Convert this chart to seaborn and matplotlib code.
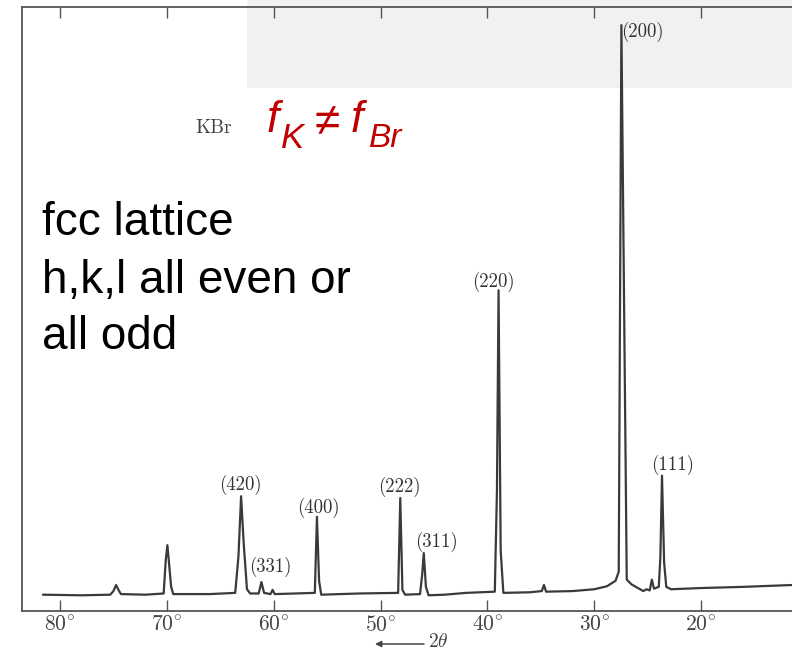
import matplotlib
matplotlib.use('Agg')
import matplotlib.pyplot as plt
import seaborn as sns
import pandas as pd
from matplotlib.patches import Rectangle

# ---- data (2theta in degrees, intensity arb. units) ----
two_theta = [81.6, 78.0, 75.3, 75.0, 74.75, 74.5, 74.3, 72.0, 70.3, 70.1, 69.95, 69.8, 69.6, 69.4,
             66.0, 63.6, 63.3, 63.05, 62.8, 62.5, 62.2, 61.4, 61.15, 60.9, 60.3, 60.1, 59.9,
             58.0, 56.15, 55.95, 55.75, 55.55, 52.0, 48.35, 48.15, 47.95, 47.7, 46.3, 46.1,
             45.95, 45.75, 45.5, 44.0, 42.0, 39.3, 39.1, 38.95, 38.75, 38.5, 36.0, 34.9, 34.7,
             34.5, 32.0, 30.0, 28.8, 28.0, 27.7, 27.45, 26.95, 26.5, 26.0, 25.6, 25.4, 25.1,
             24.8, 24.6, 24.4, 23.95, 23.8, 23.65, 23.45, 23.25, 22.8, 20.0, 16.0, 11.5]
intensity = [2.7, 2.6, 2.7, 3.3, 4.3, 3.4, 2.8, 2.7, 2.9, 8.5, 10.9, 8.0, 4.0, 2.8,
             2.8, 3.0, 9.0, 19.0, 11.0, 3.6, 2.9, 2.9, 4.8, 3.0, 2.8, 3.5, 2.8,
             2.9, 3.0, 15.6, 5.0, 2.7, 2.9, 3.0, 18.7, 3.5, 2.7, 2.8, 6.0,
             9.6, 4.0, 2.6, 2.7, 3.0, 3.2, 20.0, 53.1, 10.0, 3.0, 3.1, 3.3, 4.3,
             3.2, 3.3, 3.6, 4.1, 5.0, 6.5, 97.0, 5.2, 4.4, 3.9, 3.5, 3.3, 3.6,
             3.4, 5.2, 3.7, 4.0, 9.0, 22.4, 8.0, 4.0, 3.6, 3.8, 4.0, 4.3]

peak_labels = ['(420)', '(331)', '(400)', '(222)', '(311)', '(220)', '(200)', '(111)']
label_x = [63.15, 60.34, 55.85, 48.2, 44.8, 39.45, 27.45, 22.7]
label_y = [20.9, 7.3, 17.1, 20.5, 11.4, 54.5, 95.9, 24.2]

tick_values = [80, 70, 60, 50, 40, 30, 20]
tick_labels = [r'$80^{\circ}$', r'$70^{\circ}$', r'$60^{\circ}$', r'$50^{\circ}$',
               r'$40^{\circ}$', r'$30^{\circ}$', r'$20^{\circ}$']

notes = ['fcc lattice', 'h,k,l all even or', 'all odd']

# ---- style ----
sns.set_style('white')
plt.rcParams['font.family'] = ['Liberation Sans', 'DejaVu Sans']

W, H = 792, 650
fig = plt.figure(figsize=(7.92, 6.5), dpi=100)
fig.patch.set_facecolor('white')
fig.add_artist(Rectangle((247 / W, 1 - 88 / H), 1, 88 / H, transform=fig.transFigure,
                         facecolor='#f1f1f1', edgecolor='none', zorder=-5))

ax = fig.add_axes([22 / W, 1 - 611 / H, 1 - 22 / W, (611 - 7) / H])
ax.set_facecolor('none')

df = pd.DataFrame({'two_theta': two_theta, 'intensity': intensity})
sns.lineplot(data=df, x='two_theta', y='intensity', ax=ax, color='#3a3a3a',
             linewidth=1.6, sort=False, estimator=None)

ax.set_xlim(83.56, 11.48)
ax.set_ylim(0, 100)
ax.set_xlabel('')
ax.set_ylabel('')
ax.set_yticks([])
ax.set_xticks(tick_values)
ax.set_xticklabels(tick_labels, fontsize=15.5, color='#444444')
for t in ax.get_xticklabels():
    t.set_math_fontfamily('cm')
ax.tick_params(axis='x', which='both', direction='in', length=8, width=1.0, color='#555555',
               top=True, bottom=True, pad=3)
for side in ['left', 'bottom', 'top']:
    ax.spines[side].set_color('#555555')
    ax.spines[side].set_linewidth(1.3)
ax.spines['right'].set_visible(False)

for lbl, x, y in zip(peak_labels, label_x, label_y):
    ha = 'left' if lbl == '(200)' else 'center'
    ax.text(x, y, lbl, family='cmr10', fontsize=13.5, ha=ha, va='center', color='#333333')

fig.text(195 / W, 1 - 133 / H, 'KBr', family='cmr10', fontsize=14, color='#444444',
         ha='left', va='baseline')

# red annotation f_K != f_Br built from pieces
red = '#c00000'
red_parts = [('f', 267, 132, 32, 'italic'), ('K', 281, 148, 25, 'italic'),
             ('\u2260', 315, 135, 33, 'normal'), ('f', 351, 132, 32, 'italic'),
             ('Br', 369, 147, 24, 'italic')]
for s, px, py, fs, st in red_parts:
    fig.text(px / W, 1 - py / H, s, color=red, fontsize=fs, style=st,
             family='Liberation Sans', ha='left', va='baseline')

for txt, yb in zip(notes, [235, 293, 349]):
    fig.text(42 / W, 1 - yb / H, txt, fontsize=33, color='black', ha='left', va='baseline',
             family='Liberation Sans')

ax.annotate('', xy=(375, 6), xytext=(424, 6), xycoords='figure pixels',
            textcoords='figure pixels', annotation_clip=False,
            arrowprops=dict(arrowstyle='-|>', color='#444444', lw=1.1, mutation_scale=9,
                            shrinkA=0, shrinkB=0))
fig.text(428 / W, 8 / H, r'$2\theta$', math_fontfamily='cm', fontsize=14, color='#444444',
         ha='left', va='center')

fig.savefig('out.png', dpi=100)
